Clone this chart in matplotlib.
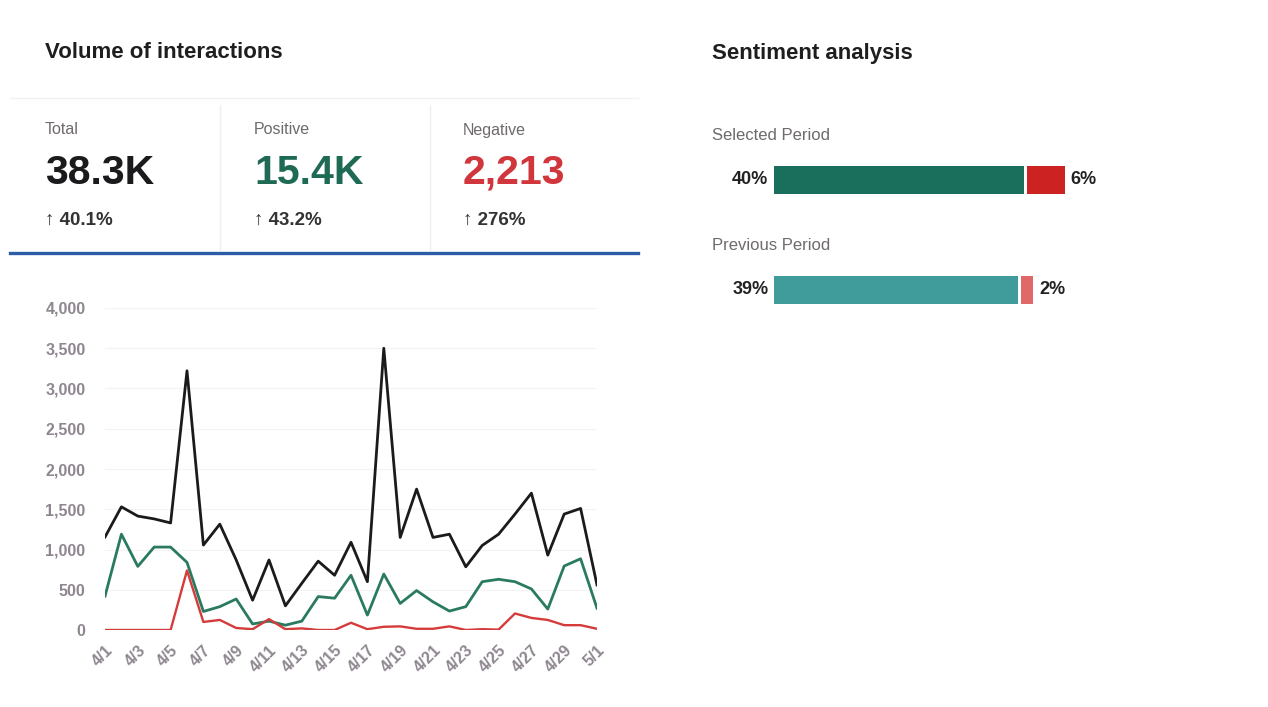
import matplotlib.pyplot as plt
import numpy as np

W, H = 1268, 707

# daily interaction counts, 4/1 .. 5/1
dates = [f"4/{d}" for d in range(1, 31)] + ["5/1"]
total = [1155, 1530, 1415, 1380, 1330, 3220, 1055, 1315, 870, 370, 870, 300, 580, 855, 680, 1090,
         600, 3500, 1150, 1750, 1150, 1190, 785, 1050, 1190, 1440, 1700, 930, 1440, 1510, 560]
positive = [420, 1190, 790, 1030, 1030, 840, 230, 290, 385, 75, 110, 60, 110, 415, 395, 680,
            185, 695, 330, 490, 350, 235, 290, 600, 630, 600, 510, 260, 795, 885, 270]
negative = [0, 0, 0, 0, 0, 740, 100, 125, 25, 10, 135, 10, 20, 0, 0, 90,
            10, 40, 45, 15, 15, 45, 0, 10, 5, 205, 150, 125, 60, 60, 15]

kpi_labels = ["Total", "Positive", "Negative"]
kpi_values = ["38.3K", "15.4K", "2,213"]
kpi_changes = ["40.1%", "43.2%", "276%"]

periods = ["Selected Period", "Previous Period"]
pos_share = [40, 39]
neg_share = [6, 2]

BLACK = "#1b1a1c"
GREEN = "#2a7a62"
RED = "#d63b3b"
GREY = "#8f8790"

plt.rcParams['font.family'] = ['Liberation Sans', 'DejaVu Sans']

fig = plt.figure(figsize=(W / 100, H / 100), dpi=100)
fig.patch.set_facecolor("white")


def fx(x):
    return x / W


def fy(y):
    return 1 - y / H


# ---- left card: headline numbers
fig.text(fx(45), fy(53), "Volume of interactions", fontsize=16, fontweight="bold",
         color="#1e1e1e", va="center")
kpi_colors = [BLACK, "#1f6a55", "#d0363b"]
for i, (lab, val, chg, col) in enumerate(zip(kpi_labels, kpi_values, kpi_changes, kpi_colors)):
    x0 = 45 + i * 209
    fig.text(fx(x0), fy(130), lab, fontsize=11.5, color="#6e6a6e", va="center")
    fig.text(fx(x0), fy(173), val, fontsize=29.5, fontweight="bold", color=col, va="center")
    fig.text(fx(x0), fy(220), "\u2191 " + chg, fontsize=13.5, fontweight="bold",
             color="#333333", va="center")

# dividers between the tiles and the blue underline
for xd in (220, 430):
    fig.add_artist(plt.Line2D([fx(xd), fx(xd)], [fy(105), fy(250)], color="#efefef", lw=1))
fig.add_artist(plt.Line2D([fx(10), fx(638)], [fy(98), fy(98)], color="#f2f2f2", lw=1))
fig.add_artist(plt.Line2D([fx(10), fx(638)], [fy(253), fy(253)], color="#2c5ca8", lw=2.4))

# ---- line chart
ax = fig.add_axes([fx(105), fy(630), fx(597) - fx(105), fy(308) - fy(630)])
x = np.arange(len(dates))
ax.plot(x, total, color=BLACK, lw=2.0, zorder=3)
ax.plot(x, positive, color=GREEN, lw=2.0, zorder=3)
ax.plot(x, negative, color=RED, lw=1.7, zorder=3)
ax.set_xlim(0, len(dates) - 1)
ax.set_ylim(0, 4000)
ax.set_yticks(np.arange(0, 4001, 500))
ax.set_yticklabels([f"{v:,}" for v in range(0, 4001, 500)])
ax.set_xticks(x[::2])
ax.set_xticklabels(dates[::2], rotation=45, ha="right", rotation_mode="anchor")
ax.tick_params(length=0, labelsize=11.5, labelcolor=GREY)
ax.tick_params(axis="y", pad=14)
ax.tick_params(axis="x", pad=9)
for lab in ax.get_xticklabels() + ax.get_yticklabels():
    lab.set_fontweight("bold")
ax.grid(axis="y", color="#f3f3f3", lw=0.8)
ax.set_axisbelow(True)
for s in ax.spines.values():
    s.set_visible(False)
ax.set_facecolor("none")

# ---- right card: sentiment split
fig.text(fx(712), fy(53), "Sentiment analysis", fontsize=16, fontweight="bold",
         color="#1e1e1e", va="center")
bx = fig.add_axes([fx(774), fy(345), 625 / W, 220 / H])
rows = np.arange(len(periods))
pos_colors = ["#1a6e5c", "#3f9c9a"]
neg_colors = ["#cc2222", "#e06868"]
bar_h = 28 / 110
for r in rows:
    bx.barh(r, pos_share[r], height=bar_h, color=pos_colors[r], lw=0)
    bx.barh(r, neg_share[r], left=pos_share[r] + 0.5, height=bar_h, color=neg_colors[r], lw=0)
    bx.annotate(f"{pos_share[r]}%", (0, r), xytext=(-4, 0), textcoords="offset points",
                ha="right", va="center", fontsize=13, fontweight="bold", color="#222222")
    bx.annotate(f"{neg_share[r]}%", (pos_share[r] + 0.5 + neg_share[r], r), xytext=(4, 0),
                textcoords="offset points", ha="left", va="center", fontsize=13,
                fontweight="bold", color="#222222")
    bx.annotate(periods[r], (0, r), xytext=(-45, 32), textcoords="offset points",
                ha="left", va="center", fontsize=12, color="#6e6a6e")
bx.set_xlim(0, 100)
bx.set_ylim(1.5, -0.5)
bx.axis("off")

fig.savefig("out.png", dpi=100, facecolor="white")
